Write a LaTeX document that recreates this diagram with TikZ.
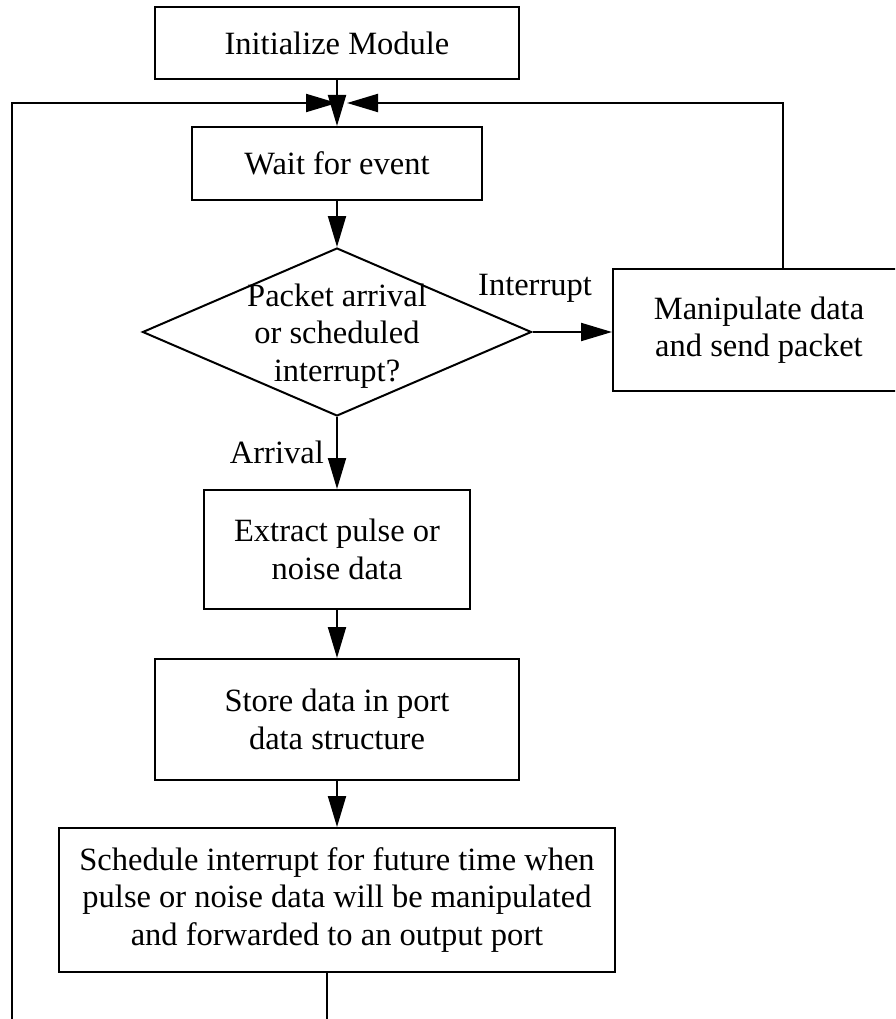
\documentclass[tikz,border=0pt]{standalone}
\usepackage{fontspec}
\setmainfont{Liberation Serif}
\usetikzlibrary{arrows.meta,shapes.geometric}
\begin{document}
\begin{tikzpicture}[x=1pt,y=-1pt,
  every node/.style={font=\fontsize{32.5}{37.5}\selectfont},
  box/.style={draw, line width=2pt, inner sep=0pt, align=center, anchor=center},
  flow/.style={line width=2pt, -{Triangle[length=31pt,width=18pt]}},
  plainline/.style={line width=2pt},
  lbl/.style={inner sep=0pt}]
\clip (0,0) rectangle (895,1019);
% boxes
\node[box, minimum width=364pt, minimum height=72pt] (init) at (337,43) {Initialize Module};
\node[box, minimum width=290pt, minimum height=73pt] (wait) at (337,163.5) {Wait for event};
\node[draw, diamond, line width=2pt, minimum width=389pt, minimum height=168pt, inner sep=0pt] (dec) at (337,332) {};
\node[lbl, align=center] (dectext) at ([yshift=-4pt]dec.center) {Packet arrival\\or scheduled\\interrupt?};
\node[box, minimum width=292pt, minimum height=122pt] (manip) at (759,330) {Manipulate data\\and send packet};
\node[box, minimum width=266pt, minimum height=119pt] (extract) at (337,549.5) {Extract pulse or\\noise data};
\node[box, minimum width=364pt, minimum height=121pt] (store) at (337,719.5) {Store data in port\\data structure};
\node[box, minimum width=556pt, minimum height=144pt] (sched) at (337,900) {Schedule interrupt for future time when\\pulse or noise data will be manipulated\\and forwarded to an output port};
% labels
\node[lbl, anchor=base west] (lint) at (478,295) {Interrupt};
\node[lbl, anchor=base east] (larr) at (324,463) {Arrival};
% coordinates
\coordinate (lj) at (337,103);
\coordinate (rj) at (347,103);
\coordinate (lbot) at (12,1030);
\coordinate (bbot) at (327,1030);
% connectors
\draw[flow] (init.south) -- (wait.north);
\draw[flow] (lbot) |- (lj);
\draw[flow] ([xshift=24pt]manip.north) |- (rj);
\draw[flow] (wait.south) -- (dec.north);
\draw[flow] (dec.east) -- (dec.east -| manip.west);
\draw[flow] (dec.south) -- (extract.north);
\draw[flow] (extract.south) -- (store.north);
\draw[flow] (store.south) -- (sched.north);
\draw[plainline] ([xshift=-10pt]sched.south) -- (bbot);
\end{tikzpicture}
\end{document}
